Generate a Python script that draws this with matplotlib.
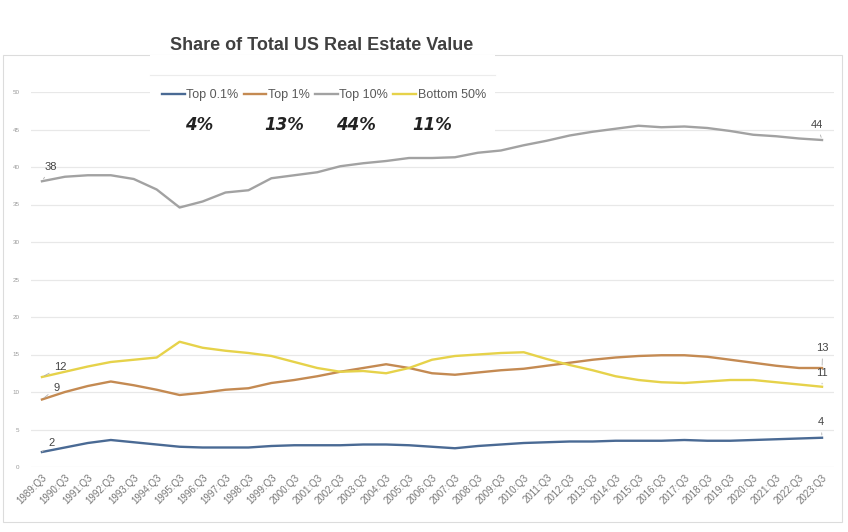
import matplotlib.pyplot as plt
from matplotlib.patches import Rectangle
from matplotlib.lines import Line2D

plt.rcParams['font.family'] = ['Liberation Sans Narrow', 'Liberation Sans', 'DejaVu Sans']

# data
years = list(range(1989, 2024))
quarters = [f'{y}:Q3' for y in years]

top01 = [2.0, 2.6, 3.2, 3.6, 3.3, 3.0, 2.7, 2.6, 2.6, 2.6, 2.8, 2.9, 2.9, 2.9, 3.0, 3.0, 2.9, 2.7,
         2.5, 2.8, 3.0, 3.2, 3.3, 3.4, 3.4, 3.5, 3.5, 3.5, 3.6, 3.5, 3.5, 3.6, 3.7, 3.8, 3.9]
top1 = [9.0, 10.0, 10.8, 11.4, 10.9, 10.3, 9.6, 9.9, 10.3, 10.5, 11.2, 11.6, 12.1, 12.7, 13.2, 13.7, 13.2, 12.5,
        12.3, 12.6, 12.9, 13.1, 13.5, 13.9, 14.3, 14.6, 14.8, 14.9, 14.9, 14.7, 14.3, 13.9, 13.5, 13.2, 13.2]
top10 = [38.1, 38.7, 38.9, 38.9, 38.4, 37.0, 34.6, 35.4, 36.6, 36.9, 38.5, 38.9, 39.3, 40.1, 40.5, 40.8, 41.2, 41.2,
         41.3, 41.9, 42.2, 42.9, 43.5, 44.2, 44.7, 45.1, 45.5, 45.3, 45.4, 45.2, 44.8, 44.3, 44.1, 43.8, 43.6]
bottom50 = [12.0, 12.7, 13.4, 14.0, 14.3, 14.6, 16.7, 15.9, 15.5, 15.2, 14.8, 14.0, 13.2, 12.7, 12.8, 12.5, 13.2, 14.3,
            14.8, 15.0, 15.2, 15.3, 14.4, 13.6, 12.9, 12.1, 11.6, 11.3, 11.2, 11.4, 11.6, 11.6, 11.3, 11.0, 10.7]

series_names = ['Top 0.1%', 'Top 1%', 'Top 10%', 'Bottom 50%']
latest_pct = ['4%', '13%', '44%', '11%']
colors = ['#4a6a94', '#c48a52', '#a2a2a2', '#e6d24a']

W, H = 848, 532
fig = plt.figure(figsize=(W / 100, H / 100), dpi=100)

def fx(px):
    return px / W

def fy(py):
    return 1 - py / H

# outer chart frame
fig.patches.append(Rectangle((fx(3), fy(522)), fx(839), (522 - 55) / H, transform=fig.transFigure,
                             fill=False, edgecolor='#dcdcdc', lw=0.8, zorder=0))

ax = fig.add_axes([fx(30.5), fy(467), (833.5 - 30.5) / W, (467 - 92) / H])
x = list(range(len(years)))
lines = []
for vals, c, name in zip([top01, top1, top10, bottom50], colors, series_names):
    ln, = ax.plot(x, vals, color=c, lw=1.7, label=name, zorder=3)
    lines.append(ln)

ax.set_xlim(-0.5, len(years) - 0.5)
ax.set_ylim(0, 50)
ax.set_yticks(range(0, 51, 5))
ax.grid(axis='y', color='#e8e8e8', lw=0.9)
ax.set_axisbelow(True)
for s in ax.spines.values():
    s.set_visible(False)
ax.tick_params(axis='y', length=0, labelsize=4.5, labelcolor='#9a9a9a', pad=8)
ax.set_xticks(x)
ax.set_xticklabels(quarters, rotation=45, ha='right', rotation_mode='anchor',
                   fontsize=7, color='#777777')
ax.tick_params(axis='x', length=0, pad=4)

# end-point data labels
lab_kw = dict(fontsize=8, color='#444444', textcoords='offset points',
              arrowprops=dict(arrowstyle='-', color='#b0b0b0', lw=0.6))
ax.annotate('38', (0, top10[0]), xytext=(2, 8), **lab_kw)
ax.annotate('12', (0, bottom50[0]), xytext=(9, 5), **lab_kw)
ax.annotate('9', (0, top1[0]), xytext=(8, 6), **lab_kw)
ax.annotate('2', (0, top01[0]), xytext=(5, 4), **lab_kw)
ax.annotate('44', (34, top10[-1]), xytext=(-8, 9), **lab_kw)
ax.annotate('13', (34, top1[-1]), xytext=(-4, 12), **lab_kw)
ax.annotate('11', (34, bottom50[-1]), xytext=(-4, 8), **lab_kw)
ax.annotate('4', (34, top01[-1]), xytext=(-3, 9), **lab_kw)

# white box behind title / legend
fig.patches.append(Rectangle((fx(150), fy(140)), fx(345), (140 - 55) / H, transform=fig.transFigure,
                             facecolor='white', edgecolor='none', zorder=5))
fig.lines.append(Line2D([fx(150), fx(495)], [fy(75), fy(75)], transform=fig.transFigure,
                        color='#ececec', lw=0.8, zorder=6))

fig.text(fx(322), fy(46), 'Share of Total US Real Estate Value', ha='center', va='center',
         fontsize=13, fontweight='bold', color='#404040', zorder=7)

leg = fig.legend(handles=lines, loc='center', bbox_to_anchor=(fx(324), fy(95)), ncol=4,
                 frameon=False, fontsize=9, handlelength=1.8, handletextpad=0.15,
                 columnspacing=0.4, labelcolor='#595959')
leg.set_zorder(8)

for px, t in zip([199, 284, 356, 432], latest_pct):
    fig.text(fx(px), fy(125), t, ha='center', va='center', fontsize=12,
             fontweight='bold', fontstyle='italic', color='#222222', zorder=8,
             family=['DejaVu Sans'])

fig.savefig('out.png', dpi=100)
